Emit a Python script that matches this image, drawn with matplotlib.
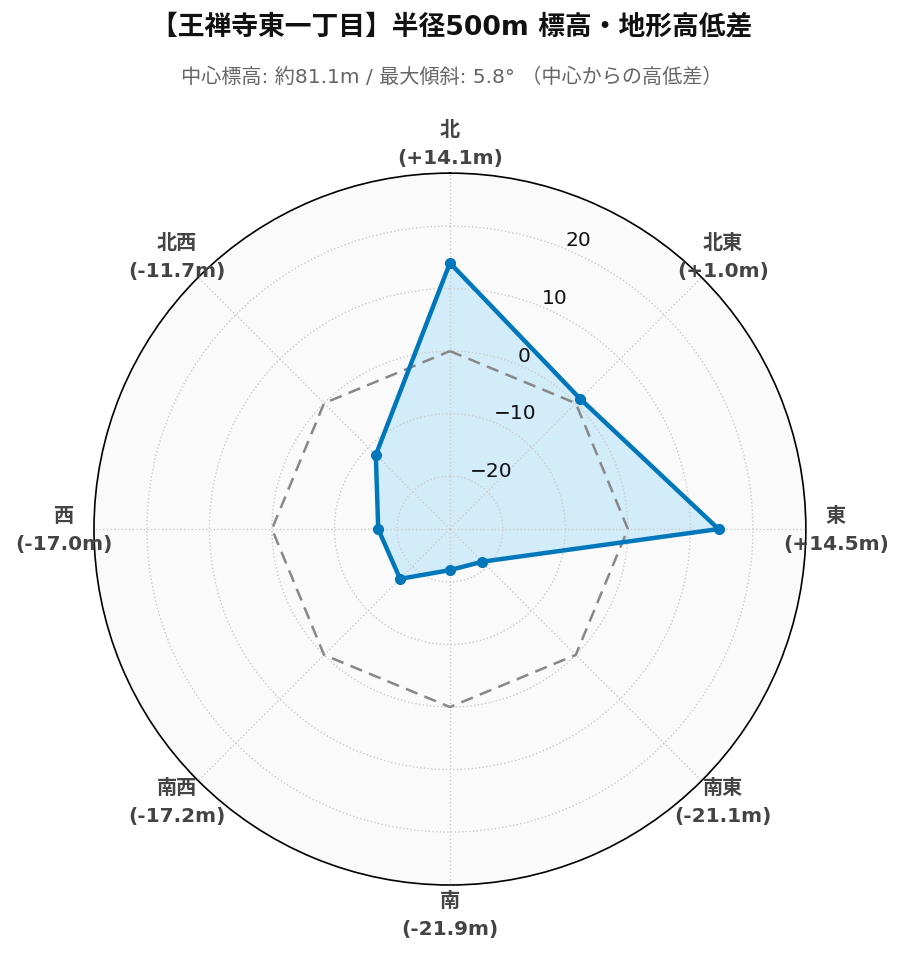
import numpy as np
import matplotlib.pyplot as plt

plt.rcParams['font.family'] = ['DejaVu Sans', 'Noto Sans CJK JP']

directions = ['北', '北東', '東', '南東', '南', '南西', '西', '北西']
diffs = [14.1, 1.0, 14.5, -21.1, -21.9, -17.2, -17.0, -11.7]
angles_deg = [0, 45, 90, 135, 180, 225, 270, 315]
rticks = [-20, -10, 0, 10, 20]

title = '【王禅寺東一丁目】半径500m 標高・地形高低差'
subtitle = '中心標高: 約81.1m / 最大傾斜: 5.8° （中心からの高低差）'

lim = max(abs(v) for v in diffs) * 1.3

theta = np.deg2rad(angles_deg)
theta_c = np.append(theta, theta[0])
vals_c = np.append(diffs, diffs[0])

fig = plt.figure(figsize=(9.03, 9.62), dpi=100)
ax = fig.add_axes([0.104, 0.079, 0.7885, 0.740], projection='polar')
ax.set_theta_zero_location('N')
ax.set_theta_direction(-1)
ax.set_ylim(-lim, lim)
ax.set_facecolor('#fafafa')
ax.set_axisbelow(False)

# reference line at 0 (center elevation)
ax.plot(theta_c, np.zeros(len(theta_c)), color='#888888', lw=1.8, ls=(0, (5, 3)), zorder=3)

ax.fill(theta_c, vals_c, color='#d3ecf9', zorder=2)
ax.plot(theta_c, vals_c, color='#0077bb', lw=3.2, zorder=4)
ax.plot(theta, diffs, 'o', color='#0077bb', ms=7, zorder=5)

ax.set_xticks(theta)
ax.set_xticklabels([])
ax.set_yticks(rticks)
ax.set_yticklabels([f'{t}' if t >= 0 else f'\u2212{abs(t)}' for t in rticks], fontsize=14.5, color='#111111')
ax.set_rlabel_position(22.5)
ax.grid(True, color='#cccccc', ls=':', lw=1)
ax.spines['polar'].set_color('black')
ax.spines['polar'].set_linewidth(1.2)

r_lab = -lim + (lim * 2) * 386 / 356
for a, d, v in zip(theta, directions, diffs):
    ax.text(a, r_lab, f'{d}\n({v:+.1f}m)', ha='center', va='center', fontsize=14.5,
            fontweight='bold', color='#444444', linespacing=1.6, clip_on=False)

fig.text(0.5, 0.971, title, ha='center', va='center', fontsize=19.3, fontweight='bold', color='#111111')
fig.text(0.5, 0.920, subtitle, ha='center', va='center', fontsize=14.5, color='#666666')

fig.savefig('out.png', dpi=100)
